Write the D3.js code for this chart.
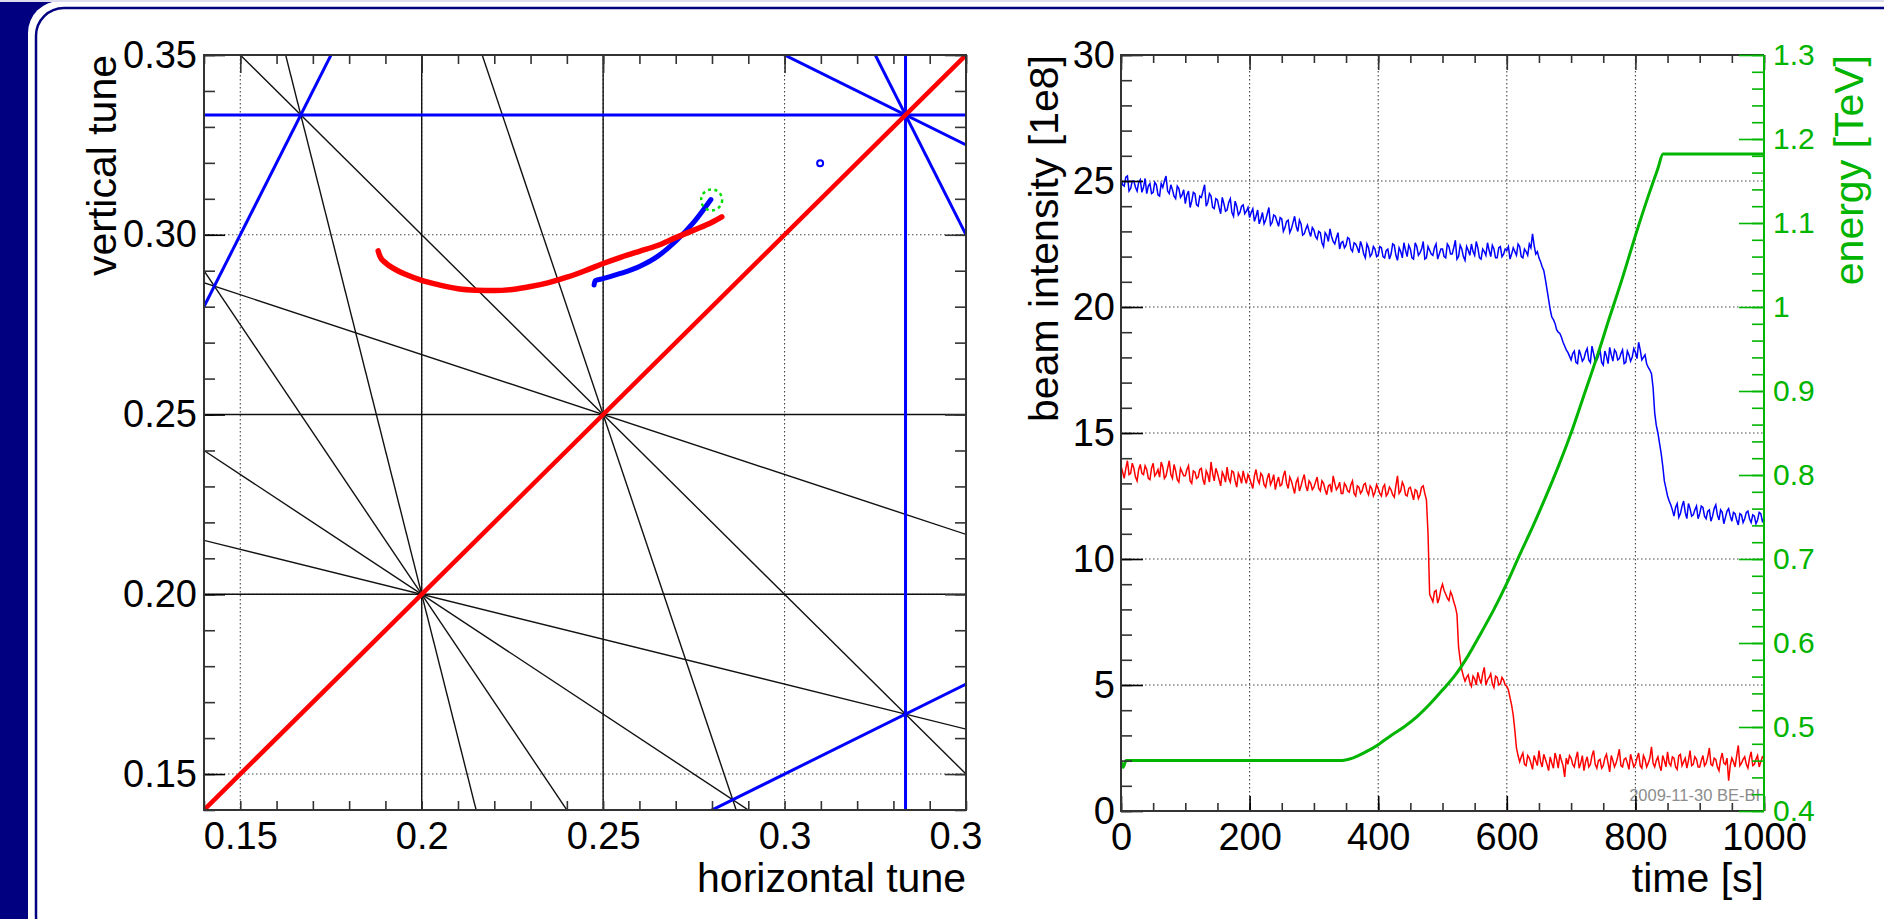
<!DOCTYPE html>
<html>
<head>
<meta charset="utf-8">
<script src="https://cdn.jsdelivr.net/npm/d3@7"></script>
<style>
html, body { margin: 0; padding: 0; background: #000080; overflow: hidden; }
svg { display: block; font-family: "Liberation Sans", Arial, sans-serif; }
</style>
</head>
<body>
<svg id="chart"></svg>
<script>
// ---------- tune diagram data ----------
// resonance lines a*Qx + b*Qy = p
const resonance3 = [[3,0,1],[0,3,1],[2,1,1],[1,2,1],[2,-1,0],[1,-2,0]];
const resonance4 = [[4,0,1],[0,4,1],[3,1,1],[1,3,1],[2,2,1]];
const resonance5 = [[5,0,1],[0,5,1],[4,1,1],[1,4,1],[3,2,1],[2,3,1]];
const coupling = [[1,-1,0]];

const tuneRedQx = [0.1880,0.1885,0.1900,0.1930,0.1960,0.2000,0.2050,0.2100,0.2150,0.2200,0.2250,0.2300,0.2350,0.2400,0.2450,0.2500,0.2550,0.2600,0.2650,0.2700,0.2750,0.2800,0.2827];
const tuneRedQy = [0.2955,0.2940,0.2922,0.2902,0.2888,0.2873,0.2860,0.2850,0.2846,0.2845,0.2848,0.2856,0.2867,0.2882,0.2900,0.2920,0.2938,0.2954,0.2970,0.2992,0.3013,0.3035,0.3050];
const tuneBlueQx = [0.2475,0.2478,0.2500,0.2550,0.2600,0.2650,0.2700,0.2750,0.2797];
const tuneBlueQy = [0.2860,0.2872,0.2878,0.2893,0.2912,0.2940,0.2982,0.3035,0.3098];
const tuneMarker = [0.2799, 0.3097];
const tuneOutlier = [0.3098, 0.3199];

const tuneTicksX = [0.15, 0.2, 0.25, 0.3, 0.35];
const tuneTicksY = [0.15, 0.20, 0.25, 0.30, 0.35];

// ---------- intensity / energy data ----------
// samples at t = 0, 5, ..., 1000 s
const intensityBlue = [
  25.1,24.8,25.2,24.7,25.0,24.6,25.05,24.75,24.5,24.9,24.55,24.85,24.4,24.75,25.2,24.5,24.65,24.3,24.7,24.45,
  24.1,24.6,24.2,24.5,24.0,24.35,24.85,24.15,24.4,23.9,24.25,23.7,24.1,23.85,24.3,23.6,24.0,23.75,24.05,23.8,
  23.55,23.9,23.6,23.3,23.75,23.45,23.95,23.35,23.6,23.2,23.5,23.15,23.45,23.1,23.6,23.0,23.3,22.9,23.25,22.8,
  23.05,22.7,22.95,22.4,22.85,23.1,22.6,22.75,22.3,22.6,22.45,22.7,22.2,22.5,22.15,22.4,21.95,22.35,22.1,22.3,
  22.05,22.35,21.95,22.3,22.1,22.45,21.85,22.2,22.55,22.0,22.3,21.9,22.4,22.15,22.6,21.95,22.25,22.05,22.5,22.1,
  22.3,21.95,22.4,22.1,22.65,22.0,22.3,21.85,22.25,22.5,22.05,22.35,21.9,22.2,22.55,22.0,22.3,21.95,22.4,22.1,
  22.25,21.9,22.35,22.05,22.4,21.95,22.2,22.5,22.9,22.1,21.95,21.6,21.1,20.3,19.6,19.35,19.0,18.8,18.45,18.2,
  17.9,18.25,17.75,18.1,17.95,18.35,17.8,18.15,17.9,18.3,17.7,18.05,18.4,17.85,18.2,17.95,18.3,17.8,18.1,18.0,
  18.2,18.6,17.9,18.1,17.6,17.35,15.8,15.0,14.2,13.1,12.5,12.15,11.7,12.2,11.8,12.3,11.6,12.0,11.75,12.1,
  11.8,12.05,11.6,11.95,11.7,12.15,11.55,11.85,11.65,12.0,11.5,11.8,11.35,11.75,11.6,11.9,11.45,11.7,11.55,11.8,
  11.6
];
// samples at t = 2.5, 7.5, ..., 997.5 s
const intensityBlueMid = [
  24.85,25.15,24.6,25.0,24.75,24.95,24.55,25.1,24.8,24.5,24.95,24.45,24.9,25.0,24.6,24.85,24.4,24.8,24.35,24.65,
  24.45,23.95,24.55,24.05,24.4,24.6,24.0,24.5,23.95,24.3,23.95,24.35,23.8,24.15,23.75,24.2,23.65,24.0,23.7,23.95,
  23.75,23.4,23.85,23.5,23.3,23.7,23.25,23.65,23.4,23.55,23.0,23.4,22.95,23.35,23.2,23.45,22.85,23.1,23.0,23.15,
  22.8,23.0,22.55,22.95,22.6,22.8,22.5,22.95,22.55,22.35,22.75,22.3,22.55,22.35,22.6,22.1,22.5,22.0,22.4,22.0,
  22.4,22.0,22.25,21.9,22.5,22.05,22.35,21.95,22.25,22.45,21.95,22.55,22.05,22.3,21.9,22.4,22.1,22.35,21.9,22.3,
  22.0,22.5,22.1,22.35,21.9,22.45,22.0,22.4,22.05,22.2,22.6,21.95,22.3,22.05,22.25,22.45,21.95,22.35,22.0,22.3,
  22.4,22.1,22.2,22.5,22.0,22.3,22.05,22.35,22.45,22.2,21.8,21.45,20.7,19.9,19.5,19.1,18.95,18.6,18.3,18.05,
  18.15,17.8,18.3,17.85,18.2,17.9,18.45,17.85,18.05,17.8,18.25,17.75,18.1,18.3,17.9,18.15,17.75,18.25,17.85,18.35,
  17.95,18.3,18.0,17.75,17.5,16.8,15.3,14.6,13.7,12.8,12.3,11.95,12.05,11.65,12.1,11.85,12.2,11.7,11.95,11.6,
  12.1,11.7,11.9,11.5,12.0,11.75,11.95,11.4,11.9,11.7,11.85,11.55,11.8,11.45,11.85,11.6,11.75,11.4,11.85,11.5
];
const intensityRed = [
  13.7,13.2,13.9,13.4,13.6,13.1,13.75,13.35,13.55,13.15,13.8,13.4,13.25,13.65,13.3,13.9,13.2,13.5,13.05,13.45,
  13.3,13.7,13.0,13.45,13.25,13.6,12.95,13.35,13.85,13.1,13.4,12.9,13.3,13.65,13.05,13.45,12.85,13.25,13.5,13.0,
  13.2,12.8,13.55,13.0,13.3,12.85,13.4,13.1,12.75,13.25,12.95,13.5,12.8,13.1,12.6,13.2,12.9,13.35,12.7,13.0,
  12.85,13.25,12.7,13.0,12.55,12.95,13.3,12.75,13.05,12.6,12.9,12.65,13.1,12.5,12.85,12.7,13.0,12.55,12.8,12.65,
  12.8,12.5,12.95,12.6,12.75,12.45,13.3,12.7,12.9,12.5,12.85,12.35,12.7,12.55,12.9,12.35,8.6,8.3,8.75,8.45,
  9.0,8.6,8.35,8.55,8.1,6.5,5.6,5.15,5.4,4.95,5.25,5.5,5.05,5.7,5.2,5.45,4.9,5.3,5.05,5.2,
  4.95,4.5,3.8,2.5,1.95,2.3,1.8,2.1,1.65,2.0,2.4,1.75,2.05,1.6,1.9,2.3,1.7,2.0,1.35,1.85,
  2.1,1.75,2.35,1.9,1.6,2.15,1.85,2.4,1.7,2.05,1.8,2.25,1.55,2.0,1.9,2.45,1.75,2.1,1.65,2.0,
  1.85,2.3,1.7,2.05,1.9,2.55,1.75,2.15,1.6,2.0,2.35,1.8,2.1,1.65,2.25,1.95,1.7,2.4,1.85,2.05,
  1.75,2.2,1.9,2.5,1.8,2.05,1.6,2.3,1.85,1.2,2.1,1.75,2.6,1.9,2.15,1.7,2.35,1.85,2.2,1.95,
  2.1
];
const intensityRedMid = [
  13.45,13.6,13.35,13.8,13.25,13.55,13.4,13.7,13.2,13.6,13.3,13.55,13.85,13.2,13.6,13.35,13.75,13.15,13.6,13.3,
  13.55,13.1,13.5,13.2,13.55,13.15,13.5,13.05,13.4,13.6,13.15,13.45,13.05,13.2,13.5,13.1,13.4,13.0,13.2,13.35,
  13.0,13.3,13.15,13.4,12.95,13.2,12.95,13.35,13.05,12.9,13.3,13.0,13.25,12.85,13.05,12.7,13.15,12.9,13.1,12.75,
  13.05,12.8,13.1,12.75,12.9,12.65,13.0,12.85,12.6,13.0,12.7,12.95,12.6,12.9,12.6,12.95,12.7,12.9,12.5,12.95,
  12.6,12.85,12.5,12.85,12.55,12.9,12.6,13.05,12.55,12.8,12.6,12.75,12.4,12.85,12.6,11.0,8.45,8.7,8.25,8.8,
  8.75,8.45,8.7,8.3,7.8,6.0,5.35,5.3,5.1,5.35,5.0,5.25,5.45,5.0,5.3,5.05,5.35,5.0,5.3,5.0,
  4.8,4.2,3.2,2.2,2.15,1.85,2.2,1.9,2.2,1.8,1.95,2.25,1.85,2.15,1.7,2.05,2.25,1.8,2.1,2.2,
  1.85,2.1,1.7,2.2,1.95,1.75,2.2,1.85,2.0,1.7,2.1,1.9,2.2,1.75,2.15,1.8,2.05,1.9,2.25,1.75,
  2.1,1.8,2.2,1.75,2.1,1.9,2.0,1.8,2.2,1.75,1.9,2.15,1.75,2.2,1.8,2.1,2.0,1.8,2.15,1.75,
  2.0,1.8,2.15,1.85,2.1,1.75,2.05,1.9,2.1,1.8,1.95,2.2,1.8,2.05,1.85,2.1,1.8,2.05,1.75,2.15
];
const energyTime = [0,3,8,340,360,380,400,420,440,460,480,500,520,540,560,580,600,620,640,660,680,700,720,740,760,780,800,820,835,843,1000];
const energyTeV  = [0.460,0.452,0.460,0.460,0.463,0.470,0.479,0.490,0.500,0.512,0.527,0.544,0.562,0.585,0.612,0.640,0.671,0.705,0.738,0.773,0.810,0.850,0.895,0.940,0.988,1.035,1.085,1.132,1.165,1.182,1.182];

const timeTicks = [0, 200, 400, 600, 800, 1000];
const intensityTicks = [0, 5, 10, 15, 20, 25, 30];
const energyTicks = [0.4, 0.5, 0.6, 0.7, 0.8, 0.9, 1, 1.1, 1.2, 1.3];

// interleave the two sample grids into one time series
const mergeSamples = (onGrid, offGrid) =>
  d3.merge(onGrid.map((v, i) => i < offGrid.length
    ? [[i * 5, v], [i * 5 + 2.5, offGrid[i]]]
    : [[i * 5, v]]));

const W = 1884, H = 919;
const svg = d3.select('#chart').attr('width', W).attr('height', H);

// ---------- slide background ----------
svg.append('rect').attr('width', W).attr('height', H).attr('fill', '#000080');
svg.append('rect').attr('x', 28).attr('y', 1).attr('width', 1950).attr('height', 1000)
  .attr('rx', 32).attr('fill', '#ffffff');
svg.append('rect').attr('x', 36).attr('y', 8).attr('width', 1950).attr('height', 936)
  .attr('rx', 28).attr('fill', 'none').attr('stroke', '#000080').attr('stroke-width', 2.5);
svg.append('rect').attr('width', W).attr('height', 2).attr('fill', '#dcdcee');

const TICK = 38, TITLE = 41;
const styleAxis = (g, color) => {
  g.select('.domain').remove();
  g.selectAll('line').attr('stroke', color).attr('stroke-width', 1.6);
  g.selectAll('text').attr('fill', color).attr('font-size', TICK)
    .attr('font-family', '"Liberation Sans", Arial, sans-serif');
};

// ================= left: tune diagram =================
const xQ = d3.scaleLinear().domain([0.14, 0.35]).range([204, 966]);
const yQ = d3.scaleLinear().domain([0.14, 0.35]).range([810, 55]);

svg.append('clipPath').attr('id', 'clipQ').append('rect')
  .attr('x', 204).attr('y', 55).attr('width', 762).attr('height', 755);
const plotQ = svg.append('g').attr('clip-path', 'url(#clipQ)');

// dotted grid
plotQ.selectAll('.gx').data(tuneTicksX.slice(0, 4)).join('line')
  .attr('x1', d => xQ(d)).attr('x2', d => xQ(d)).attr('y1', 55).attr('y2', 810)
  .attr('stroke', '#444').attr('stroke-width', 1.1).attr('stroke-dasharray', '1.5,2.5');
plotQ.selectAll('.gy').data(tuneTicksY.slice(0, 4)).join('line')
  .attr('y1', d => yQ(d)).attr('y2', d => yQ(d)).attr('x1', 204).attr('x2', 966)
  .attr('stroke', '#444').attr('stroke-width', 1.1).attr('stroke-dasharray', '1.5,2.5');

// resonance lines
const resLine = ([a, b, p]) => {
  if (b === 0) return [[p / a, -1], [p / a, 2]];
  return [[-1, (p + a) / b], [2, (p - 2 * a) / b]];
};
const drawRes = (list, color, width) => {
  plotQ.append('g').selectAll('line').data(list.map(resLine)).join('line')
    .attr('x1', d => xQ(d[0][0])).attr('y1', d => yQ(d[0][1]))
    .attr('x2', d => xQ(d[1][0])).attr('y2', d => yQ(d[1][1]))
    .attr('stroke', color).attr('stroke-width', width);
};
drawRes(resonance5, '#111', 1.4);
drawRes(resonance4, '#111', 1.4);
drawRes(resonance3, '#0000ff', 3);
drawRes(coupling, '#ff0000', 4.5);

// tune traces
const tuneLine = d3.line().x(d => xQ(d[0])).y(d => yQ(d[1])).curve(d3.curveMonotoneX);
plotQ.append('path').attr('d', tuneLine(d3.zip(tuneBlueQx, tuneBlueQy)))
  .attr('fill', 'none').attr('stroke', '#0000ff').attr('stroke-width', 5).attr('stroke-linecap', 'round');
plotQ.append('path').attr('d', tuneLine(d3.zip(tuneRedQx, tuneRedQy)))
  .attr('fill', 'none').attr('stroke', '#ff0000').attr('stroke-width', 5.5).attr('stroke-linecap', 'round');
plotQ.append('circle').attr('cx', xQ(tuneMarker[0])).attr('cy', yQ(tuneMarker[1])).attr('r', 10.5)
  .attr('fill', 'none').attr('stroke', '#00dd00').attr('stroke-width', 2.5).attr('stroke-dasharray', '3,3.5');
plotQ.append('circle').attr('cx', xQ(tuneOutlier[0])).attr('cy', yQ(tuneOutlier[1])).attr('r', 3)
  .attr('fill', '#fff').attr('stroke', '#0000ff').attr('stroke-width', 2);

// axes (ticks on all four sides)
svg.append('clipPath').attr('id', 'clipLabels').append('rect')
  .attr('x', 0).attr('y', 0).attr('width', 982).attr('height', H);
const minorQx = xQ.ticks(21), minorQy = yQ.ticks(21);
svg.append('g').attr('transform', 'translate(0,810)')
  .call(d3.axisBottom(xQ).tickValues(minorQx).tickSize(-9).tickFormat(''))
  .call(g => styleAxis(g, '#333'));
svg.append('g').attr('transform', 'translate(0,810)').attr('clip-path', 'url(#clipLabels)')
  .call(d3.axisBottom(xQ).tickValues(tuneTicksX).tickSize(-17).tickPadding(12).tickFormat(d => String(d)))
  .call(g => styleAxis(g, '#000'));
svg.append('g').attr('transform', 'translate(0,55)')
  .call(d3.axisTop(xQ).tickValues(minorQx).tickSize(-9).tickFormat(''))
  .call(g => styleAxis(g, '#333'));
svg.append('g').attr('transform', 'translate(0,55)')
  .call(d3.axisTop(xQ).tickValues(tuneTicksX).tickSize(-18).tickFormat(''))
  .call(g => styleAxis(g, '#333'));
svg.append('g').attr('transform', 'translate(204,0)')
  .call(d3.axisLeft(yQ).tickValues(minorQy).tickSize(-11).tickFormat(''))
  .call(g => styleAxis(g, '#333'));
svg.append('g').attr('transform', 'translate(204,0)')
  .call(d3.axisLeft(yQ).tickValues(tuneTicksY).tickSize(-21).tickPadding(7).tickFormat(d3.format('.2f')))
  .call(g => styleAxis(g, '#000'));
svg.append('g').attr('transform', 'translate(966,0)')
  .call(d3.axisRight(yQ).tickValues(minorQy).tickSize(-11).tickFormat(''))
  .call(g => styleAxis(g, '#333'));
svg.append('g').attr('transform', 'translate(966,0)')
  .call(d3.axisRight(yQ).tickValues(tuneTicksY).tickSize(-21).tickFormat(''))
  .call(g => styleAxis(g, '#333'));
svg.append('rect').attr('x', 204).attr('y', 55).attr('width', 762).attr('height', 755)
  .attr('fill', 'none').attr('stroke', '#333').attr('stroke-width', 2);

svg.append('text').attr('x', 966).attr('y', 892).attr('text-anchor', 'end')
  .attr('font-size', TITLE).text('horizontal tune');
svg.append('text').attr('transform', 'translate(116,55) rotate(-90)').attr('text-anchor', 'end')
  .attr('font-size', TITLE).text('vertical tune');

// ================= right: intensity & energy =================
const xT = d3.scaleLinear().domain([0, 1000]).range([1121, 1764]);
const yI = d3.scaleLinear().domain([0, 30]).range([811, 55]);
const yE = d3.scaleLinear().domain([0.4, 1.3]).range([811, 55]);
const GREEN = '#00b400';

svg.append('clipPath').attr('id', 'clipT').append('rect')
  .attr('x', 1121).attr('y', 55).attr('width', 643).attr('height', 756);
const plotT = svg.append('g').attr('clip-path', 'url(#clipT)');

plotT.selectAll('.gx').data(timeTicks.slice(1, 5)).join('line')
  .attr('x1', d => xT(d)).attr('x2', d => xT(d)).attr('y1', 55).attr('y2', 811)
  .attr('stroke', '#444').attr('stroke-width', 1.1).attr('stroke-dasharray', '1.5,2.5');
plotT.selectAll('.gy').data(intensityTicks.slice(1, 6)).join('line')
  .attr('y1', d => yI(d)).attr('y2', d => yI(d)).attr('x1', 1121).attr('x2', 1764)
  .attr('stroke', '#444').attr('stroke-width', 1.1).attr('stroke-dasharray', '1.5,2.5');

const intLine = d3.line().x(d => xT(d[0])).y(d => yI(d[1]));
plotT.append('path').attr('d', intLine(mergeSamples(intensityBlue, intensityBlueMid)))
  .attr('fill', 'none').attr('stroke', '#0000ff').attr('stroke-width', 1.5);
plotT.append('path').attr('d', intLine(mergeSamples(intensityRed, intensityRedMid)))
  .attr('fill', 'none').attr('stroke', '#ff0000').attr('stroke-width', 1.5);
const eLine = d3.line().x(d => xT(d[0])).y(d => yE(d[1])).curve(d3.curveMonotoneX);
plotT.append('path').attr('d', eLine(d3.zip(energyTime, energyTeV)))
  .attr('fill', 'none').attr('stroke', GREEN).attr('stroke-width', 3);

svg.append('text').attr('x', 1760).attr('y', 801).attr('text-anchor', 'end')
  .attr('font-size', 16.5).attr('fill', '#8c8c8c').text('2009-11-30 BE-BI');

const minorT = d3.range(0, 1001, 50), minorI = d3.range(0, 31, 1);
const minorE = yE.ticks(45);
svg.append('g').attr('transform', 'translate(0,811)')
  .call(d3.axisBottom(xT).tickValues(minorT).tickSize(-8).tickFormat(''))
  .call(g => styleAxis(g, '#333'));
svg.append('g').attr('transform', 'translate(0,811)')
  .call(d3.axisBottom(xT).tickValues(timeTicks).tickSize(-15).tickPadding(12).tickFormat(d => String(d)))
  .call(g => styleAxis(g, '#000'));
svg.append('g').attr('transform', 'translate(0,55)')
  .call(d3.axisTop(xT).tickValues(minorT).tickSize(-8).tickFormat(''))
  .call(g => styleAxis(g, '#333'));
svg.append('g').attr('transform', 'translate(0,55)')
  .call(d3.axisTop(xT).tickValues(timeTicks).tickSize(-15).tickFormat(''))
  .call(g => styleAxis(g, '#333'));
svg.append('g').attr('transform', 'translate(1121,0)')
  .call(d3.axisLeft(yI).tickValues(minorI).tickSize(-11).tickFormat(''))
  .call(g => styleAxis(g, '#333'));
svg.append('g').attr('transform', 'translate(1121,0)')
  .call(d3.axisLeft(yI).tickValues(intensityTicks).tickSize(-22).tickPadding(6).tickFormat(d => String(d)))
  .call(g => styleAxis(g, '#000'));

// frame: top, left, bottom in black; right is the green energy axis
svg.append('path').attr('d', 'M1764,55H1121V811H1764')
  .attr('fill', 'none').attr('stroke', '#333').attr('stroke-width', 2);
svg.append('g').attr('transform', 'translate(1764,0)')
  .call(d3.axisRight(yE).tickValues(minorE).tickSize(-12).tickFormat(''))
  .call(g => styleAxis(g, GREEN));
svg.append('g').attr('transform', 'translate(1764,0)')
  .call(d3.axisRight(yE).tickValues(energyTicks).tickSize(-25).tickPadding(9).tickFormat(d => String(d)))
  .call(g => styleAxis(g, GREEN))
  .call(g => g.selectAll('text').attr('font-size', 30));
svg.append('line').attr('x1', 1764).attr('x2', 1764).attr('y1', 55).attr('y2', 811)
  .attr('stroke', GREEN).attr('stroke-width', 2);

svg.append('text').attr('x', 1764).attr('y', 892).attr('text-anchor', 'end')
  .attr('font-size', TITLE).text('time [s]');
svg.append('text').attr('transform', 'translate(1058,55) rotate(-90)').attr('text-anchor', 'end')
  .attr('font-size', TITLE).text('beam intensity [1e8]');
svg.append('text').attr('transform', 'translate(1863,55) rotate(-90)').attr('text-anchor', 'end')
  .attr('font-size', TITLE).attr('fill', GREEN).text('energy [TeV]');
</script>
</body>
</html>
